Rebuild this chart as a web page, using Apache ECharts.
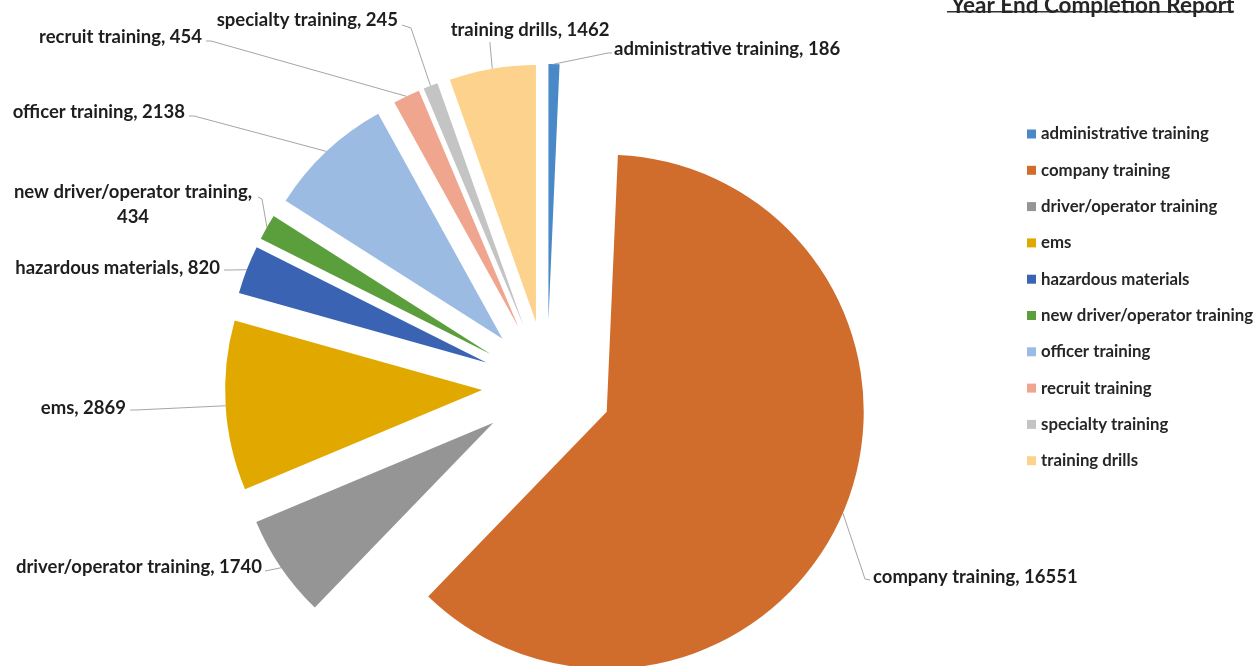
<!DOCTYPE html>
<html>
<head>
<meta charset="utf-8">
<script src="https://cdn.jsdelivr.net/npm/echarts@6/dist/echarts.min.js"></script>
<style>
  html, body { margin: 0; padding: 0; background: #ffffff; }
  #chart { width: 1259px; height: 666px; }
</style>
</head>
<body>
<div id="chart"></div>
<script>
// Training hours by category for the year
const categories = [
  'administrative training',
  'company training',
  'driver/operator training',
  'ems',
  'hazardous materials',
  'new driver/operator training',
  'officer training',
  'recruit training',
  'specialty training',
  'training drills'
];
const hours = [186, 16551, 1740, 2869, 820, 434, 2138, 454, 245, 1462];
const sliceColors = [
  '#4A89C8', '#D06D2D', '#959595', '#E1A900', '#3A63B3',
  '#5B9F3D', '#9BBBE2', '#F0A58F', '#C4C4C4', '#FCD28D'
];

// Pie geometry: every slice is pulled out from the common centre by the same distance
const pieCenter = [547, 386];
const pieRadius = 257;
const explode = 65;

// Data label placement: text anchor, alignment and where its leader line meets the text
const labelSpots = [
  { x: 614, y: 49,  align: 'left',   knee: [608, 53],  tail: [612, 53] },
  { x: 873, y: 577, align: 'left',   knee: [865, 579], tail: [870, 580] },
  { x: 262, y: 567, align: 'right',  knee: [270, 570], tail: [265, 571] },
  { x: 126, y: 408, align: 'right',  knee: [136, 410], tail: [130, 410] },
  { x: 220, y: 268, align: 'right',  knee: [229, 270], tail: [224, 270] },
  { x: 133, y: 205, align: 'center', knee: [262, 199], tail: [258, 197], wrap: true },
  { x: 185, y: 112, align: 'right',  knee: [194, 116], tail: [189, 116] },
  { x: 202, y: 37,  align: 'right',  knee: [211, 41],  tail: [206, 41] },
  { x: 398, y: 20,  align: 'right',  knee: [411, 28],  tail: [402, 25] },
  { x: 530, y: 30,  align: 'center', knee: [490, 44],  tail: [490, 42] }
];

const textFont = 'Lato, "Open Sans", sans-serif';
const total = hours.reduce(function (a, b) { return a + b; }, 0);

// One pie series per slice so each one can sit at its own exploded centre;
// the remainder of the circle is an invisible filler.
const series = [];
let before = 0;
hours.forEach(function (v, i) {
  const startDeg = before / total * 360;
  const midRad = (before + v / 2) / total * 2 * Math.PI;
  const spot = labelSpots[i];
  series.push({
    type: 'pie',
    id: 'slice-' + i,
    center: [pieCenter[0] + explode * Math.sin(midRad), pieCenter[1] - explode * Math.cos(midRad)],
    radius: pieRadius,
    startAngle: 90 - startDeg,
    clockwise: true,
    avoidLabelOverlap: false,
    selectedMode: false,
    emphasis: { disabled: true },
    tooltip: { show: false },
    label: {
      show: true,
      position: 'outside',
      fontFamily: textFont,
      fontSize: 18.5,
      fontWeight: 'bold',
      color: '#1E1E1E',
      lineHeight: 25,
      formatter: function (p) {
        return p.name + (spot.wrap ? ',\n' : ', ') + p.value;
      }
    },
    labelLine: { show: true, length: 10, length2: 10, lineStyle: { color: '#A6A6A6', width: 1 } },
    labelLayout: function (params) {
      if (params.dataIndex !== 0) return {};
      const start = params.labelLinePoints ? params.labelLinePoints[0] : spot.knee;
      return {
        x: spot.x,
        y: spot.y,
        align: spot.align,
        verticalAlign: 'middle',
        labelLinePoints: [start, spot.knee, spot.tail]
      };
    },
    data: [
      { name: categories[i], value: v, itemStyle: { color: sliceColors[i] } },
      {
        name: '', value: total - v, silent: true,
        itemStyle: { color: 'rgba(0,0,0,0)' },
        label: { show: false }, labelLine: { show: false }
      }
    ]
  });
  before += v;
});

const chart = echarts.init(document.getElementById('chart'), null, { renderer: 'canvas' });

chart.setOption({
  animation: false,
  backgroundColor: '#ffffff',
  title: {
    text: 'Year End Completion Report',
    left: 946,
    top: -11,
    textStyle: { fontFamily: textFont, fontSize: 22.5, fontWeight: 'bold', color: '#262626' }
  },
  graphic: [{
    type: 'rect',
    shape: { x: 947, y: 11, width: 286, height: 1.6 },
    style: { fill: '#333333' },
    silent: true
  }],
  legend: {
    orient: 'vertical',
    left: 1022,
    top: 120,
    itemWidth: 9,
    itemHeight: 9,
    itemGap: 18.3,
    icon: 'rect',
    selectedMode: false,
    textStyle: { fontFamily: textFont, fontSize: 16.8, fontWeight: 'bold', color: '#262626', lineHeight: 18 },
    data: categories
  },
  series: series
});
</script>
</body>
</html>
